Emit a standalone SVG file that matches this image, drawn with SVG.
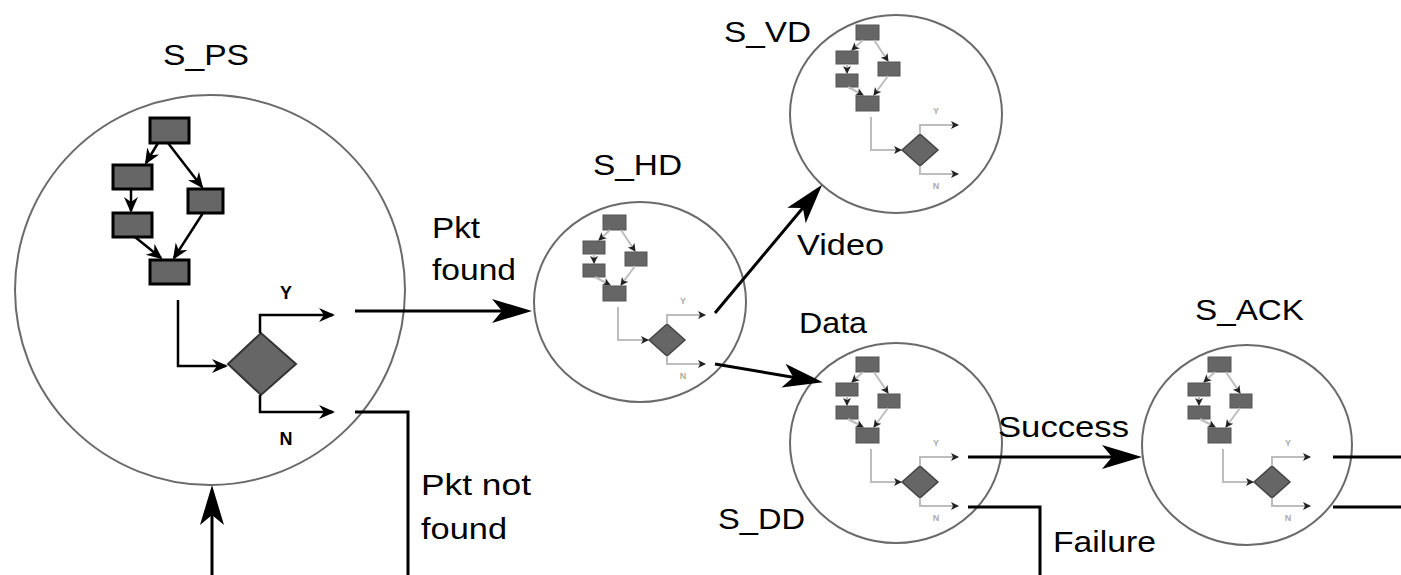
<svg xmlns="http://www.w3.org/2000/svg" xmlns:xlink="http://www.w3.org/1999/xlink" width="1401" height="575" viewBox="0 0 1401 575">
  <style>
    .state { fill: none; stroke: #6a6a6a; stroke-width: 2; }
    .lbl { font-family: "Liberation Sans", Arial, sans-serif; font-size: 30px; fill: #000; }
    .yn { font-family: "Liberation Sans", Arial, sans-serif; font-size: 18px; font-weight: bold; fill: #000; text-anchor: middle; }
    .wire { fill: none; stroke: #000; stroke-width: 3; }
    .box { fill: #666; stroke: #000; stroke-width: 3; }
    .flow { fill: none; stroke: #000; stroke-width: 2.5; }
    .mbox { fill: #666; stroke: #555; stroke-width: 1; }
    .mflow { fill: none; stroke: #bdbdbd; stroke-width: 2; }
    .mtxt { font-family: "Liberation Sans", Arial, sans-serif; font-size: 9px; font-weight: bold; fill: #aaa; text-anchor: middle; }
  </style>
  <defs>
    <marker id="arrow" markerUnits="userSpaceOnUse" orient="auto" overflow="visible" refX="0" refY="0">
      <path d="M8,0 L-32,-12 L-22,0 L-32,12 Z" fill="#000"/>
    </marker>
    <marker id="arrowSm" markerUnits="userSpaceOnUse" orient="auto" overflow="visible" refX="0" refY="0">
      <path d="M2,0 L-14,-7 L-9,0 L-14,7 Z" fill="#000"/>
    </marker>
    <marker id="arrowMini" markerUnits="userSpaceOnUse" orient="auto" overflow="visible" refX="0" refY="0">
      <path d="M1,0 L-7,-4 L-5,0 L-7,4 Z" fill="#222"/>
    </marker>
    <!-- reduced copy of the process flow, drawn around a state's centre -->
    <g id="miniFlow">
      <rect class="mbox" x="-40" y="-87" width="23" height="15"/>
      <rect class="mbox" x="-60" y="-61" width="22" height="13"/>
      <rect class="mbox" x="-60" y="-38" width="22" height="13"/>
      <rect class="mbox" x="-18" y="-50" width="22" height="14"/>
      <rect class="mbox" x="-40" y="-16" width="23" height="15"/>
      <path class="mflow" d="M-33,-72 L-44,-62" marker-end="url(#arrowMini)"/>
      <path class="mflow" d="M-22,-72 L-8,-51" marker-end="url(#arrowMini)"/>
      <path class="mflow" d="M-49,-48 L-49,-39" marker-end="url(#arrowMini)"/>
      <path class="mflow" d="M-48,-25 L-33,-17" marker-end="url(#arrowMini)"/>
      <path class="mflow" d="M-8,-36 L-22,-17" marker-end="url(#arrowMini)"/>
      <path class="mflow" d="M-25,5 V38 H5" marker-end="url(#arrowMini)"/>
      <path d="M6,38 L24,22 L42,38 L24,54 Z" fill="#666" stroke="#444" stroke-width="1.5"/>
      <path class="mflow" d="M24,22 V13 H62" marker-end="url(#arrowMini)"/>
      <path class="mflow" d="M24,54 V62 H62" marker-end="url(#arrowMini)"/>
      <text class="mtxt" x="40" y="2">Y</text>
      <text class="mtxt" x="40" y="77">N</text>
    </g>
  </defs>

  <rect width="1401" height="575" fill="#fff"/>

  <!-- S_PS: packet search -->
  <g id="S_PS">
    <circle class="state" cx="210" cy="290" r="195"/>
    <text class="lbl" x="163" y="65" textLength="86" lengthAdjust="spacingAndGlyphs">S_PS</text>
    <rect class="box" x="150" y="118" width="39" height="25"/>
    <rect class="box" x="113" y="165" width="39" height="24"/>
    <rect class="box" x="113" y="213" width="39" height="24"/>
    <rect class="box" x="188" y="189" width="35" height="24"/>
    <rect class="box" x="150" y="260" width="39" height="24"/>
    <path class="flow" d="M158,143 L146,163" marker-end="url(#arrowSm)"/>
    <path class="flow" d="M168,143 L202,187" marker-end="url(#arrowSm)"/>
    <path class="flow" d="M131,189 L131,211" marker-end="url(#arrowSm)"/>
    <path class="flow" d="M135,237 L161,258" marker-end="url(#arrowSm)"/>
    <path class="flow" d="M203,213 L174,258" marker-end="url(#arrowSm)"/>
    <path class="flow" d="M178,300 V366 H226" marker-end="url(#arrowSm)"/>
    <path d="M228,364 L261,333 L296,364 L261,395 Z" fill="#666" stroke="#333" stroke-width="2"/>
    <path class="flow" d="M260,333 V315 H333" marker-end="url(#arrowSm)"/>
    <path class="flow" d="M260,395 V412 H333" marker-end="url(#arrowSm)"/>
    <text class="yn" x="286" y="299">Y</text>
    <text class="yn" x="286" y="445">N</text>
  </g>

  <!-- S_HD: header decode -->
  <g id="S_HD">
    <ellipse class="state" cx="640" cy="302" rx="106" ry="100"/>
    <use xlink:href="#miniFlow" transform="translate(643,302)"/>
    <text class="lbl" x="593" y="175" textLength="89" lengthAdjust="spacingAndGlyphs">S_HD</text>
  </g>

  <!-- S_VD: video decode -->
  <g id="S_VD">
    <ellipse class="state" cx="896" cy="114" rx="106" ry="99"/>
    <use xlink:href="#miniFlow" transform="translate(896,112)"/>
    <text class="lbl" x="724" y="42" textLength="87" lengthAdjust="spacingAndGlyphs">S_VD</text>
  </g>

  <!-- S_DD: data decode -->
  <g id="S_DD">
    <ellipse class="state" cx="896" cy="443" rx="106" ry="100"/>
    <use xlink:href="#miniFlow" transform="translate(896,444)"/>
    <text class="lbl" x="718" y="529" textLength="87" lengthAdjust="spacingAndGlyphs">S_DD</text>
  </g>

  <!-- S_ACK: acknowledge -->
  <g id="S_ACK">
    <ellipse class="state" cx="1247" cy="445" rx="105" ry="100"/>
    <use xlink:href="#miniFlow" transform="translate(1248,444)"/>
    <text class="lbl" x="1195" y="320" textLength="109" lengthAdjust="spacingAndGlyphs">S_ACK</text>
  </g>

  <!-- transitions -->
  <g id="connectors">
    <path class="wire" d="M355,311 H524" marker-end="url(#arrow)"/>
    <path class="wire" d="M355,412 H408 V575"/>
    <path class="wire" d="M212,575 V493" marker-end="url(#arrow)"/>
    <path class="wire" d="M715,313 L817,191" marker-end="url(#arrow)"/>
    <path class="wire" d="M715,364 L815,381" marker-end="url(#arrow)"/>
    <path class="wire" d="M968,457 H1134" marker-end="url(#arrow)"/>
    <path class="wire" d="M968,507 H1040 V575"/>
    <path class="wire" d="M1333,457 H1401"/>
    <path class="wire" d="M1333,507 H1401"/>

    <text class="lbl" x="432" y="238" textLength="48" lengthAdjust="spacingAndGlyphs">Pkt</text>
    <text class="lbl" x="432" y="280" textLength="84" lengthAdjust="spacingAndGlyphs">found</text>
    <text class="lbl" x="421" y="495" textLength="110" lengthAdjust="spacingAndGlyphs">Pkt not</text>
    <text class="lbl" x="421" y="539" textLength="86" lengthAdjust="spacingAndGlyphs">found</text>
    <text class="lbl" x="797" y="255" textLength="87" lengthAdjust="spacingAndGlyphs">Video</text>
    <text class="lbl" x="799" y="333" textLength="68" lengthAdjust="spacingAndGlyphs">Data</text>
    <text class="lbl" x="998" y="437" textLength="131" lengthAdjust="spacingAndGlyphs">Success</text>
    <text class="lbl" x="1053" y="552" textLength="103" lengthAdjust="spacingAndGlyphs">Failure</text>
  </g>
</svg>
